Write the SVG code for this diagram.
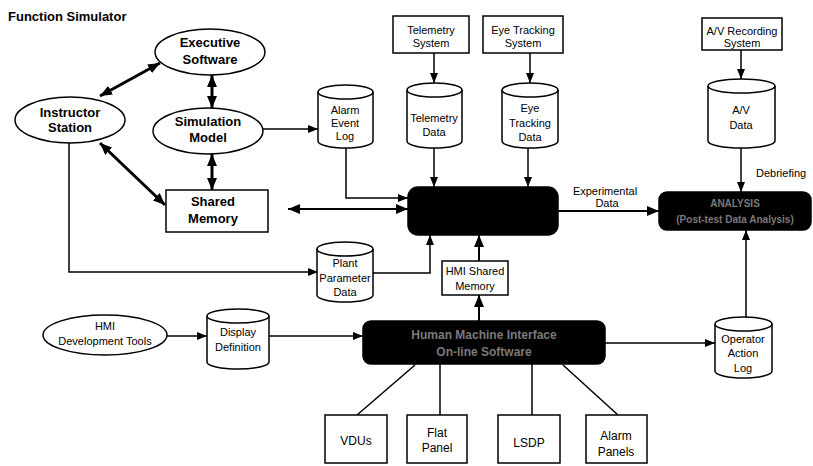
<svg xmlns="http://www.w3.org/2000/svg" width="813" height="466" viewBox="0 0 813 466">
<style>
  .bg{fill:#fff}
  .n{fill:#fff;stroke:#000;stroke-width:1.5}
  .blk{fill:#000;stroke:#000;stroke-width:1.5}
  .t{font-family:"Liberation Sans",Arial,sans-serif;font-size:11px;fill:#000;text-anchor:middle}
  .b{font-family:"Liberation Sans",Arial,sans-serif;font-size:13px;font-weight:bold;fill:#000;text-anchor:middle}
  .w{font-family:"Liberation Sans",Arial,sans-serif;font-size:12px;font-weight:bold;fill:#7a7a7a;text-anchor:middle}
  .c{fill:none;stroke:#000;stroke-width:1.5}
  .ct{fill:none;stroke:#000;stroke-width:3}
</style>
<defs>
  <marker id="ah" markerUnits="userSpaceOnUse" markerWidth="10" markerHeight="8" refX="10" refY="4" orient="auto">
    <path d="M0,0 L10,4 L0,8 Z" fill="#000"/>
  </marker>
  <marker id="ahb" markerUnits="userSpaceOnUse" markerWidth="12" markerHeight="10" refX="12" refY="5" orient="auto-start-reverse">
    <path d="M0,0 L12,5 L0,10 Z" fill="#000"/>
  </marker>
</defs>
<rect class="bg" x="0" y="0" width="813" height="466"/>
<text class="b" x="8" y="21" style="text-anchor:start">Function Simulator</text>

<g id="connectors">
  <line class="ct" x1="100" y1="96" x2="160" y2="63" marker-start="url(#ahb)" marker-end="url(#ahb)"/>
  <line class="ct" x1="212" y1="75" x2="212" y2="108" marker-start="url(#ahb)" marker-end="url(#ahb)"/>
  <line class="ct" x1="100" y1="143" x2="165" y2="205" marker-start="url(#ahb)" marker-end="url(#ahb)"/>
  <line class="ct" x1="212" y1="154" x2="212" y2="190" marker-start="url(#ahb)" marker-end="url(#ahb)"/>
  <line class="c" x1="263" y1="129" x2="318" y2="129" marker-end="url(#ah)"/>
  <line class="ct" style="stroke-width:2" x1="288" y1="209" x2="408" y2="209" marker-start="url(#ahb)" marker-end="url(#ahb)"/>
  <polyline class="c" points="346,148 346,198 408,198" marker-end="url(#ah)"/>
  <line class="c" x1="434" y1="53" x2="434" y2="83" marker-end="url(#ah)"/>
  <line class="c" x1="530" y1="53" x2="530" y2="83" marker-end="url(#ah)"/>
  <line class="c" x1="434" y1="148" x2="434" y2="187" marker-end="url(#ah)"/>
  <line class="c" x1="528" y1="148" x2="528" y2="187" marker-end="url(#ah)"/>
  <polyline class="c" points="69,143 69,272 318,272" marker-end="url(#ah)"/>
  <polyline class="c" points="373,273 430,273 430,235" marker-end="url(#ah)"/>
  <line class="c" style="stroke-width:2" x1="479" y1="261" x2="479" y2="235" marker-end="url(#ahb)"/>
  <line class="c" style="stroke-width:2" x1="479" y1="321" x2="479" y2="295" marker-end="url(#ahb)"/>
  <line class="c" x1="167" y1="336" x2="207" y2="336" marker-end="url(#ah)"/>
  <line class="c" x1="269" y1="336" x2="363" y2="336" marker-end="url(#ah)"/>
  <line class="c" x1="605" y1="343" x2="715" y2="343" marker-end="url(#ah)"/>
  <line class="c" x1="746" y1="317" x2="746" y2="230" marker-end="url(#ah)"/>
  <line class="c" x1="741" y1="50" x2="741" y2="79" marker-end="url(#ah)"/>
  <line class="c" x1="741" y1="148" x2="741" y2="192" marker-end="url(#ah)"/>
  <line class="c" style="stroke-width:2" x1="558" y1="211" x2="659" y2="211" marker-end="url(#ahb)"/>
  <line class="c" x1="357" y1="415" x2="415" y2="365"/>
  <line class="c" x1="440" y1="364" x2="440" y2="415"/>
  <line class="c" x1="532" y1="364" x2="532" y2="415"/>
  <line class="c" x1="563" y1="365" x2="618" y2="415"/>
  <text class="t" x="605" y="195">Experimental</text>
  <text class="t" x="607" y="207">Data</text>
  <text class="t" x="756" y="177" style="text-anchor:start">Debriefing</text>
</g>

<g id="executive-software">
  <ellipse class="n" cx="210" cy="52" rx="55" ry="23"/>
  <text class="b" x="210" y="47">Executive</text>
  <text class="b" x="210" y="64">Software</text>
</g>
<g id="instructor-station">
  <ellipse class="n" cx="70" cy="120" rx="55" ry="23"/>
  <text class="b" x="70" y="117">Instructor</text>
  <text class="b" x="70" y="132">Station</text>
</g>
<g id="simulation-model">
  <ellipse class="n" cx="208" cy="131" rx="55" ry="23"/>
  <text class="b" x="208" y="126">Simulation</text>
  <text class="b" x="208" y="142">Model</text>
</g>
<g id="shared-memory">
  <rect class="n" x="166" y="190" width="102" height="42"/>
  <text class="b" x="213" y="206">Shared</text>
  <text class="b" x="213" y="223">Memory</text>
</g>
<g id="alarm-event-log">
  <path class="n" d="M318 92 A27.5 7 0 0 1 373 92 V141 A27.5 7 0 0 1 318 141 Z"/>
  <path class="c" d="M318 92 A27.5 7 0 0 0 373 92"/>
  <text class="t" x="345" y="114">Alarm</text>
  <text class="t" x="345" y="127">Event</text>
  <text class="t" x="345" y="140">Log</text>
</g>
<g id="telemetry-system">
  <rect class="n" x="393" y="16" width="76" height="37"/>
  <text class="t" x="431" y="34">Telemetry</text>
  <text class="t" x="431" y="47">System</text>
</g>
<g id="eye-tracking-system">
  <rect class="n" x="483" y="16" width="80" height="37"/>
  <text class="t" x="523" y="34">Eye Tracking</text>
  <text class="t" x="523" y="47">System</text>
</g>
<g id="telemetry-data">
  <path class="n" d="M407 90 A27.5 7 0 0 1 462 90 V141 A27.5 7 0 0 1 407 141 Z"/>
  <path class="c" d="M407 90 A27.5 7 0 0 0 462 90"/>
  <text class="t" x="434" y="122">Telemetry</text>
  <text class="t" x="434" y="136">Data</text>
</g>
<g id="eye-tracking-data">
  <path class="n" d="M502 90 A28 7 0 0 1 558 90 V141 A28 7 0 0 1 502 141 Z"/>
  <path class="c" d="M502 90 A28 7 0 0 0 558 90"/>
  <text class="t" x="530" y="112">Eye</text>
  <text class="t" x="530" y="127">Tracking</text>
  <text class="t" x="530" y="141">Data</text>
</g>
<g id="data-collection">
  <rect class="blk" x="408" y="187" width="150" height="48" rx="10"/>
</g>
<g id="plant-parameter-data">
  <path class="n" d="M317 249 A28 7 0 0 1 373 249 V295 A28 7 0 0 1 317 295 Z"/>
  <path class="c" d="M317 249 A28 7 0 0 0 373 249"/>
  <text class="t" x="345" y="267">Plant</text>
  <text class="t" x="345" y="282">Parameter</text>
  <text class="t" x="345" y="296">Data</text>
</g>
<g id="hmi-shared-memory">
  <rect class="n" x="442" y="261" width="66" height="34"/>
  <text class="t" x="475" y="275">HMI Shared</text>
  <text class="t" x="475" y="290">Memory</text>
</g>
<g id="a-v-recording-system">
  <rect class="n" x="702" y="18" width="80" height="32"/>
  <text class="t" x="742" y="35">A/V Recording</text>
  <text class="t" x="742" y="47">System</text>
</g>
<g id="a-v-data">
  <path class="n" d="M708 86 A33.5 7 0 0 1 775 86 V141 A33.5 7 0 0 1 708 141 Z"/>
  <path class="c" d="M708 86 A33.5 7 0 0 0 775 86"/>
  <text class="t" x="741" y="114">A/V</text>
  <text class="t" x="741" y="129">Data</text>
</g>
<g id="analysis">
  <rect class="blk" x="659" y="192" width="152" height="38" rx="8"/>
  <text class="w" x="735" y="207" style="font-size:10px">ANALYSIS</text>
  <text class="w" x="735" y="223" style="font-size:10px">(Post-test Data Analysis)</text>
</g>
<g id="hmi-development-tools">
  <ellipse class="n" cx="105" cy="335" rx="62" ry="20"/>
  <text class="t" x="105" y="330">HMI</text>
  <text class="t" x="105" y="345">Development Tools</text>
</g>
<g id="display-definition">
  <path class="n" d="M207 316 A31 7 0 0 1 269 316 V362 A31 7 0 0 1 207 362 Z"/>
  <path class="c" d="M207 316 A31 7 0 0 0 269 316"/>
  <text class="t" x="238" y="336">Display</text>
  <text class="t" x="238" y="351">Definition</text>
</g>
<g id="hmi-online-software">
  <rect class="blk" x="363" y="321" width="242" height="43" rx="8"/>
  <text class="w" x="484" y="339">Human Machine Interface</text>
  <text class="w" x="484" y="356">On-line Software</text>
</g>
<g id="operator-action-log">
  <path class="n" d="M715 324 A28.5 7 0 0 1 772 324 V371 A28.5 7 0 0 1 715 371 Z"/>
  <path class="c" d="M715 324 A28.5 7 0 0 0 772 324"/>
  <text class="t" x="743" y="343">Operator</text>
  <text class="t" x="743" y="357">Action</text>
  <text class="t" x="743" y="372">Log</text>
</g>
<g id="vdus">
  <rect class="n" x="325" y="415" width="62" height="48"/>
  <text class="t" x="356" y="445" style="font-size:12px">VDUs</text>
</g>
<g id="flat-panel">
  <rect class="n" x="407" y="415" width="60" height="48"/>
  <text class="t" x="437" y="437" style="font-size:12px">Flat</text>
  <text class="t" x="437" y="452" style="font-size:12px">Panel</text>
</g>
<g id="lsdp">
  <rect class="n" x="498" y="415" width="62" height="48"/>
  <text class="t" x="529" y="447" style="font-size:12px">LSDP</text>
</g>
<g id="alarm-panels">
  <rect class="n" x="586" y="415" width="61" height="48"/>
  <text class="t" x="616" y="440" style="font-size:12px">Alarm</text>
  <text class="t" x="616" y="456" style="font-size:12px">Panels</text>
</g>
</svg>
